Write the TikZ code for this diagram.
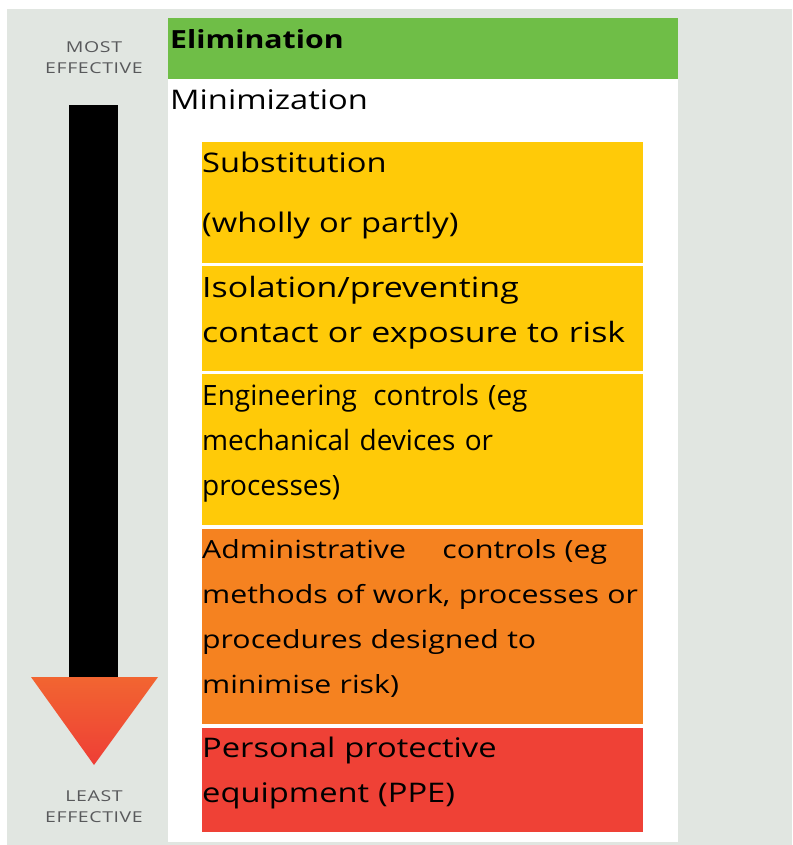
\documentclass[tikz,border=0pt]{standalone}
\usepackage{fontspec}
\setmainfont{Open Sans}[FakeStretch=1.21]
\newfontfamily\narrowfont{Open Sans}
\newfontfamily\capsfont{Open Sans}[FakeStretch=1.3,LetterSpace=4]
\definecolor{bggray}{HTML}{E1E6E1}
\definecolor{elimgreen}{HTML}{6FBE47}
\definecolor{ctrlyellow}{HTML}{FFCA08}
\definecolor{ctrlorange}{HTML}{F58220}
\definecolor{ctrlred}{HTML}{EF4136}
\definecolor{arrowtop}{HTML}{F26531}
\definecolor{arrowbot}{HTML}{EE3E36}
\definecolor{effgray}{HTML}{58595B}

\begin{document}
\begin{tikzpicture}[x=1pt,y=-1pt,
    level/.style={draw=white,line width=1.5pt,anchor=north west,minimum width=443pt,inner sep=0pt},
    leveltext/.style={anchor=base west,inner sep=0pt,text width=560pt,align=left,font=\fontsize{27}{45}\selectfont},
    effective/.style={align=center,inner sep=0pt,text=effgray,font=\capsfont\fontsize{15}{21}\selectfont}]
    \useasboundingbox (0,0) rectangle (792,845);

    % Background and panel
    \fill[bggray] (7,9) rectangle (792,845);
    \node[fill=white,anchor=north west,minimum width=510pt,minimum height=824pt,inner sep=0pt] (panel) at (168,18) {};

    % The arrow
    \fill[black] (69,105) rectangle (118,678);
    \shade[top color=arrowtop,bottom color=arrowbot] (31,677) -- (158,677) -- (94,765) -- cycle;
    \node[effective,anchor=base] (most) at (94,74) {MOST\\EFFECTIVE};
    \node[effective,anchor=base] (least) at (94,822) {LEAST\\EFFECTIVE};

    % Place the levels
    \node[fill=elimgreen,anchor=north west,minimum width=510pt,minimum height=61pt,inner sep=0pt] (elim) at (168,18) {};
    \node[level,fill=ctrlyellow,minimum height=122pt] (subst) at (200,141) {};
    \node[level,fill=ctrlyellow,minimum height=107pt] (isol) at (200,264) {};
    \node[level,fill=ctrlyellow,minimum height=153pt] (eng) at (200,372) {};
    \node[level,fill=ctrlorange,minimum height=197pt] (admin) at (200,527) {};
    \node[level,fill=ctrlred,minimum height=106pt] (ppe) at (200,726) {};

    % Finally the texts
    \node[anchor=base west,inner sep=0pt,font=\fontsize{25}{30}\selectfont\bfseries] (elimtext) at (170,49) {Elimination};
    \node[anchor=base west,inner sep=0pt,font=\fontsize{27}{30}\selectfont] (minitext) at (170,110) {Minimization};
    \node[leveltext] (substtext) at (202,172) {Substitution\\[15pt](wholly or partly)};
    \node[leveltext,font=\fontsize{28}{45}\selectfont] (isoltext) at (202,297) {Isolation/preventing\\contact or exposure to risk};
    \node[leveltext,font=\narrowfont\fontsize{28}{45}\selectfont] (engtext) at (202,405) {Engineering\hspace{7pt} controls (eg\\mechanical devices or\\processes)};
    \node[leveltext,font=\fontsize{25}{45}\selectfont] (admintext) at (202,558) {Administrative\hspace{28pt} controls (eg\\methods of work, processes or\\procedures designed to\\minimise risk)};
    \node[leveltext] (ppetext) at (202,757) {Personal protective\\equipment (PPE)};
\end{tikzpicture}
\end{document}
